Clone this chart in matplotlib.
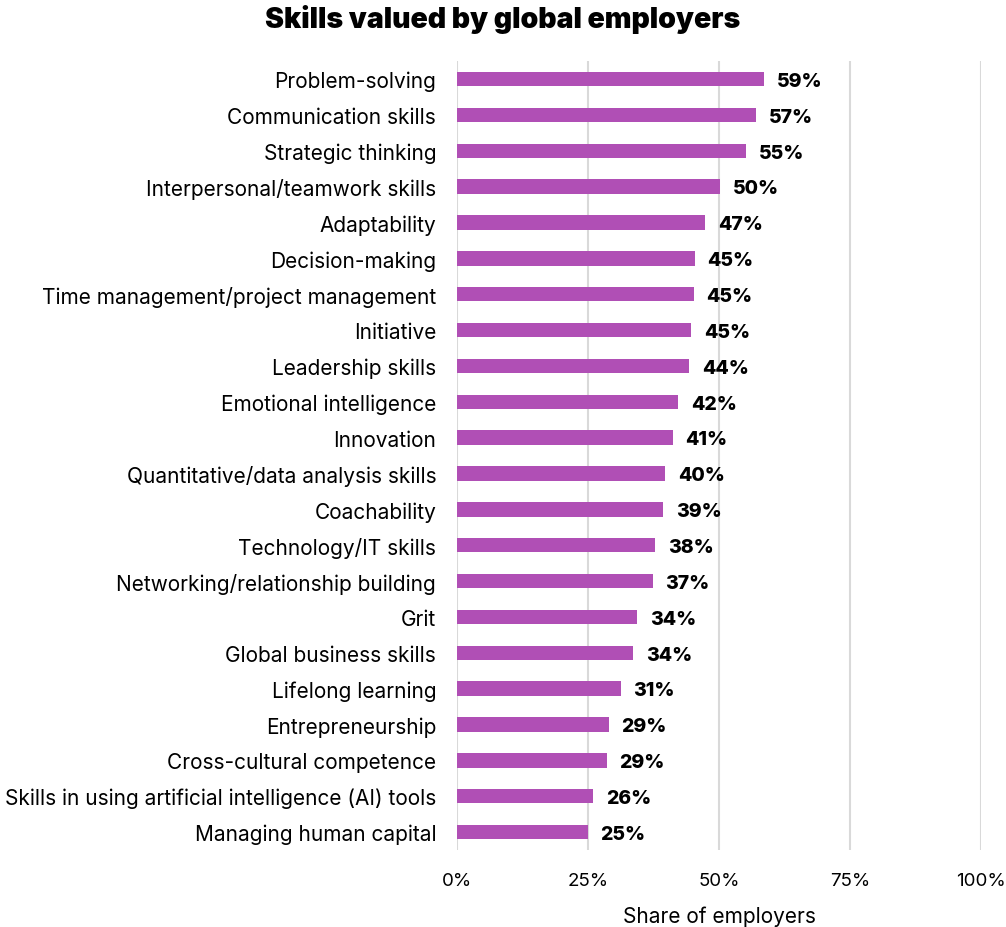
import matplotlib.pyplot as plt
from matplotlib.ticker import PercentFormatter

plt.rcParams['font.family'] = ['Inter', 'DejaVu Sans']

# Skills and share of employers (%), top to bottom
skills = [
    'Problem-solving',
    'Communication skills',
    'Strategic thinking',
    'Interpersonal/teamwork skills',
    'Adaptability',
    'Decision-making',
    'Time management/project management',
    'Initiative',
    'Leadership skills',
    'Emotional intelligence',
    'Innovation',
    'Quantitative/data analysis skills',
    'Coachability',
    'Technology/IT skills',
    'Networking/relationship building',
    'Grit',
    'Global business skills',
    'Lifelong learning',
    'Entrepreneurship',
    'Cross-cultural competence',
    'Skills in using artificial intelligence (AI) tools',
    'Managing human capital',
]
share = [58.6, 57.1, 55.2, 50.2, 47.4, 45.4, 45.2, 44.7, 44.3, 42.2, 41.2,
         39.7, 39.4, 37.8, 37.4, 34.4, 33.6, 31.3, 29.0, 28.6, 26.0, 25.0]
ticks = [0, 25, 50, 75, 100]

fig = plt.figure(figsize=(10.06, 9.28), dpi=100)
ax = fig.add_axes([0.4543, 0.083, 0.5209, 0.850])

y = range(len(skills))
ax.barh(y, share, height=0.4, color='#B04FB5', zorder=2)

for yi, v in zip(y, share):
    ax.text(v + 2.4, yi + 0.05, f'{v:.0f}%', va='center', ha='left',
            fontsize=14, fontweight='heavy', color='black')

ax.set_ylim(len(skills) - 0.5, -0.5)
ax.set_xlim(0, 100)
ax.set_yticks(list(y))
ax.set_yticklabels(skills, fontsize=15)
ax.set_xticks(ticks)
ax.xaxis.set_major_formatter(PercentFormatter(decimals=0))
ax.tick_params(axis='x', labelsize=13.5, length=0, pad=16)
ax.tick_params(axis='y', length=0, pad=15)
ax.grid(axis='x', color='#d9d9d9', linewidth=1.5, zorder=0)
for s in ax.spines.values():
    s.set_visible(False)

ax.set_xlabel('Share of employers', fontsize=15, labelpad=12)
fig.suptitle('Skills valued by global employers', fontsize=20.5,
             fontweight='black', y=0.995)

fig.savefig('out.png', dpi=100)
